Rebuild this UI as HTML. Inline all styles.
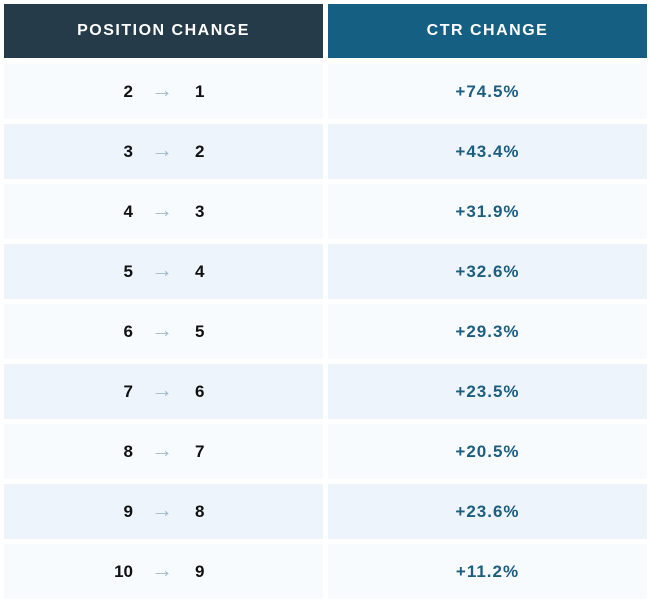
<!DOCTYPE html>
<html><head><meta charset="utf-8"><style>
body{margin:0;width:651px;height:605px;background:#fff;font-family:"Liberation Sans",sans-serif;position:relative;overflow:hidden}
.c{position:absolute;display:flex;align-items:center;justify-content:center;box-sizing:border-box}
.h{top:4px;height:54px;color:#fff;font-weight:bold;font-size:16px;letter-spacing:1.5px}
.l{left:4px;width:319px}.r{left:328px;width:319px}
.num{position:absolute;font-weight:bold;font-size:17px;color:#111}
.arr{position:absolute;font-size:22px;color:#9bbccc;font-weight:bold}
.v{color:#1d5e80;font-weight:bold;font-size:17px;letter-spacing:1px}
</style></head><body>
<div class="c h l" style="background:#263b49">POSITION CHANGE</div>
<div class="c h r" style="background:#155f82">CTR CHANGE</div>
<div id="rows"></div>
<script>
const fromPos=[2,3,4,5,6,7,8,9,10];
const toPos=[1,2,3,4,5,6,7,8,9];
const ctr=["+74.5%","+43.4%","+31.9%","+32.6%","+29.3%","+23.5%","+20.5%","+23.6%","+11.2%"];
const root=document.getElementById('rows');
fromPos.forEach((f,i)=>{
  const top=64+60*i, bg=i%2?'#edf4fb':'#f7fbfd';
  const l=document.createElement('div');
  l.className='c l';l.style.cssText=`top:${top}px;height:55px;background:${bg}`;
  
  
  l.innerHTML=`<span class="num" style="right:${323-133}px">${f}</span><span class="arr" style="left:147px;top:13px">→</span><span class="num" style="left:191px">${toPos[i]}</span>`;
  root.appendChild(l);
  const r=document.createElement('div');
  r.className='c r v';r.style.cssText=`top:${top}px;height:55px;background:${bg}`;
  
  
  r.textContent=ctr[i];
  root.appendChild(r);
});
</script>
</body></html>
